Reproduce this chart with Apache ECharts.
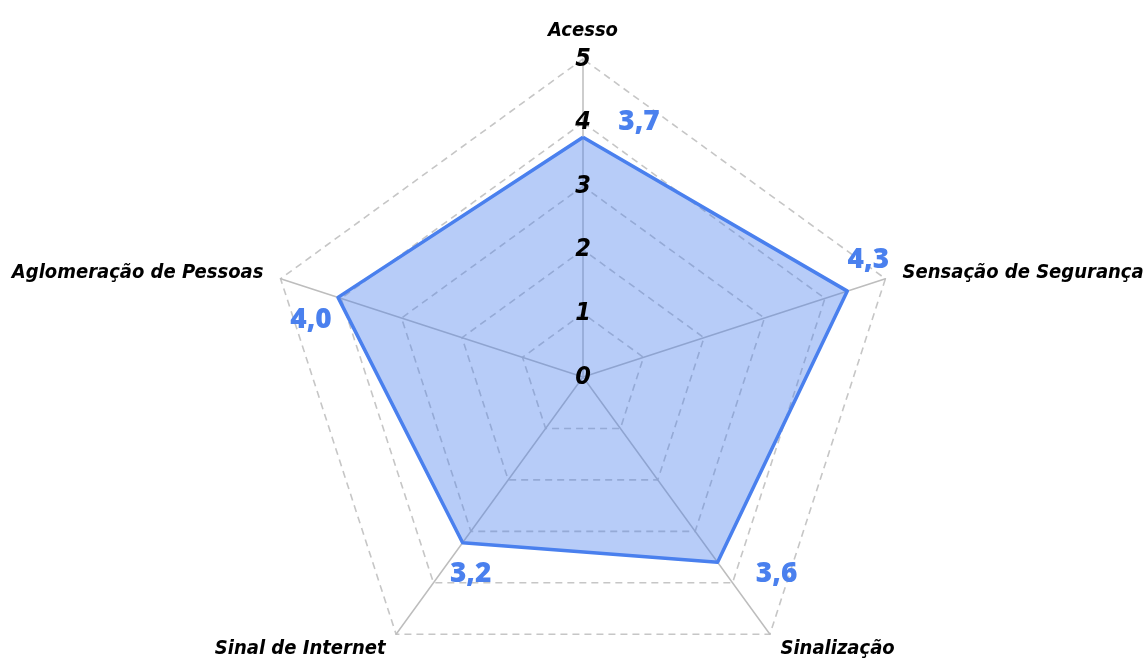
<!DOCTYPE html>
<html>
<head>
<meta charset="utf-8">
<script src="https://cdn.jsdelivr.net/npm/echarts@6/dist/echarts.min.js"></script>
<style>
html,body{margin:0;padding:0;background:#fff;}
#chart{width:1145px;height:664px;}
</style>
</head>
<body>
<div id="chart"></div>
<script>
var indicators = ['Acesso', 'Sensação de Segurança', 'Sinalização', 'Sinal de Internet', 'Aglomeração de Pessoas'];
var values = [3.77, 4.37, 3.6, 3.22, 4.05];
var axisMax = 5;

// ECharts lays indicators counter-clockwise; the reference runs clockwise
var order = [0, 4, 3, 2, 1];

var condFont = "'Liberation Sans Narrow','DejaVu Sans Condensed',sans-serif";
var blue = '#4A80EE';

function fmt(v) {
  return (Math.floor(v * 10 + 1e-9) / 10).toFixed(1).replace('.', ',');
}

// label offsets (dx, dy) per vertex, in px, in original order
var labelShift = [[56, -15], [21, -31], [59, 12], [8, 31], [-27, 23]];
var rich = {};
labelShift.forEach(function (s, i) {
  var dx = s[0], dy = s[1];
  rich['o' + i] = {
    fontFamily: "'Open Sans',sans-serif",
    fontWeight: 800,
    fontSize: 28,
    color: blue,
    padding: [Math.max(0, 2 * dy), Math.max(0, -2 * dx), Math.max(0, -2 * dy), Math.max(0, 2 * dx)]
  };
});

var orderedNames = order.map(function (i) { return indicators[i]; });
var orderedValues = order.map(function (i) { return values[i]; });

var tickLabelStyle = {
  show: true,
  margin: 0,
  align: 'center',
  verticalAlign: 'middle',
  color: '#000',
  fontFamily: condFont,
  fontStyle: 'italic',
  fontWeight: 'bold',
  fontSize: 25
};

var chart = echarts.init(document.getElementById('chart'), null, {renderer: 'canvas'});
chart.setOption({
  animation: false,
  backgroundColor: '#fff',
  radar: [{
    center: [583, 377],
    radius: 318,
    startAngle: 90,
    splitNumber: 5,
    shape: 'polygon',
    nameGap: 18,
    axisName: {
      color: '#000',
      fontFamily: condFont,
      fontStyle: 'italic',
      fontWeight: 'bold',
      fontSize: 20
    },
    indicator: orderedNames.map(function (n) {
      return {name: n, min: 0, max: axisMax};
    }),
    axisLine: {show: true, lineStyle: {color: '#bdbdbd', width: 1.5}},
    axisTick: {show: false},
    axisLabel: {show: false},
    splitLine: {show: true, lineStyle: {color: '#c6c6c6', width: 1.6, type: [7, 5]}},
    splitArea: {show: false}
  }, {
    // overlay radar carrying only the tick labels, drawn above the filled area
    z: 10,
    center: [583, 377],
    radius: 318,
    startAngle: 90,
    splitNumber: 5,
    shape: 'polygon',
    axisName: {show: false},
    indicator: orderedNames.map(function (n, k) {
      var o = {name: n, min: 0, max: axisMax};
      if (k === 0) o.axisLabel = tickLabelStyle;
      return o;
    }),
    axisLine: {show: false},
    axisTick: {show: false},
    axisLabel: {show: false},
    splitLine: {show: false},
    splitArea: {show: false}
  }],
  series: [{
    type: 'radar',
    radarIndex: 0,
    symbol: 'circle',
    symbolSize: 1,
    itemStyle: {color: blue},
    lineStyle: {color: blue, width: 3.5},
    areaStyle: {color: blue, opacity: 0.4},
    label: {
      show: true,
      position: 'inside',
      fontFamily: "'Open Sans',sans-serif",
      fontWeight: 800,
      fontSize: 28,
      formatter: function (p) {
        var i = values.indexOf(p.value);
        return '{o' + i + '|' + fmt(p.value) + '}';
      },
      rich: rich
    },
    data: [{value: orderedValues, name: 'Avaliação'}]
  }]
});
</script>
</body>
</html>
